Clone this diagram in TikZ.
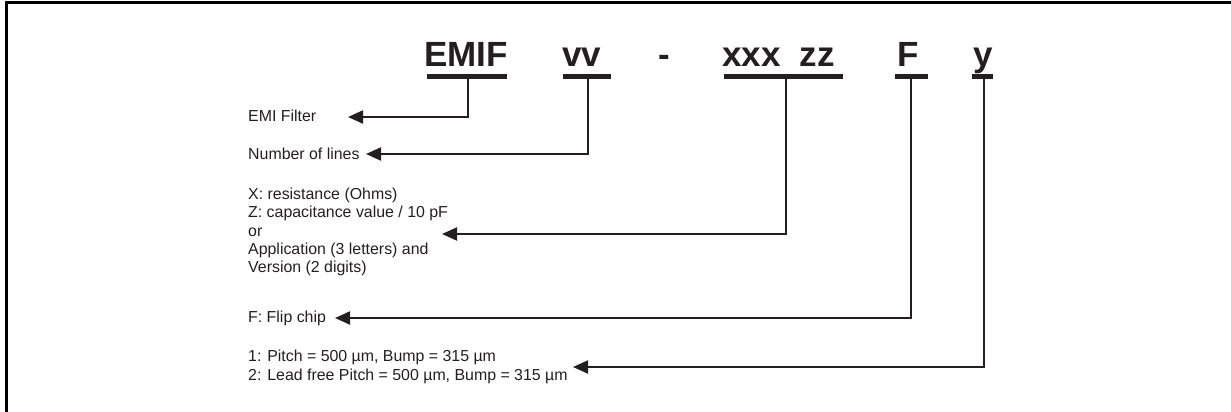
\documentclass[tikz,border=0pt]{standalone}
\usepackage{fontspec}
\setmainfont{Liberation Sans}
\usetikzlibrary{arrows.meta}
\definecolor{ink}{RGB}{35,31,32}
\begin{document}
\begin{tikzpicture}[x=1pt,y=-1pt,
  title/.style={anchor=base west,inner sep=0pt,text=ink,font=\fontsize{35}{40}\selectfont\bfseries},
  lbl/.style={anchor=west,inner sep=0pt,text=ink,align=left,font=\fontsize{15.9}{18.4}\selectfont},
  bar/.style={draw=ink,line width=5pt},
  conn/.style={draw=ink,line width=2pt,-{Triangle[length=15pt,width=13pt]}},
  frame/.style={draw=black,line width=3pt}]
\useasboundingbox (0,0) rectangle (1231,412);
% frame
\draw[frame] (1231,2.5) -- (6.5,2.5) -- (6.5,412);
% title
\node[title] (emif) at (424,66.7) {EMIF};
\node[title] (vv) at (562,66.7) {vv};
\node[title] (dash) at (658,66.7) {-};
\node[title] (xz) at (722,66.7) {xxx\hspace{19pt}zz};
\node[title] (ff) at (897,66.7) {F};
\node[title] (yy) at (973,66.7) {y};
% underline bars
\draw[bar] (427,76.5) -- (507,76.5);
\draw[bar] (563,76.5) -- (611,76.5);
\draw[bar] (724,76.5) -- (843,76.5);
\draw[bar] (895,76.5) -- (928,76.5);
\draw[bar] (972,76.5) -- (993,76.5);
% branch points
\coordinate (b1) at (468,76.5);
\coordinate (b2) at (588,76.5);
\coordinate (b3) at (786,76.5);
\coordinate (b4) at (911,76.5);
\coordinate (b5) at (984,76.5);
% labels
\node[lbl] (l1) at (248,116) {EMI Filter};
\node[lbl] (l2) at (248,153.5) {Number of lines};
\node[lbl] (l3) at (248,232) {X: resistance (Ohms)\\Z: capacitance value / 10 pF\\or\\Application (3 letters) and\\Version (2 digits)};
\node[lbl] (l4) at (248,318.5) {F: Flip chip};
\node[lbl] (l5) at (248,367) {1: Pitch = 500 µm, Bump = 315 µm\\2: Lead free Pitch = 500 µm, Bump = 315 µm};
% arrow tips
\coordinate (t1) at (348,117);
\coordinate (t2) at (366,154);
\coordinate (t3) at (442,234);
\coordinate (t4) at (335,318);
\coordinate (t5) at (573,367);
% connectors
\draw[conn] (b1) |- (t1);
\draw[conn] (b2) |- (t2);
\draw[conn] (b3) |- (t3);
\draw[conn] (b4) |- (t4);
\draw[conn] (b5) |- (t5);
\end{tikzpicture}
\end{document}
